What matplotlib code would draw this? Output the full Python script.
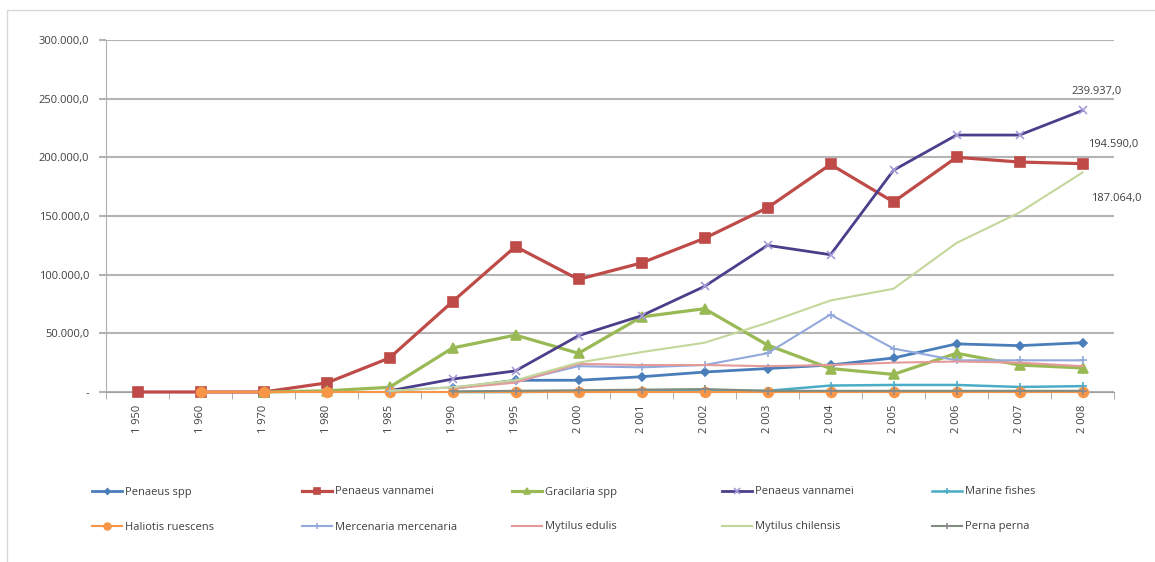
import matplotlib.pyplot as plt
import numpy as np
from matplotlib.patches import Rectangle

plt.rcParams.update({
    "font.family": ["Open Sans", "DejaVu Sans"],
    "font.size": 8,
    "text.color": "#404040",
})

nan = np.nan

years = ["1 950", "1 960", "1 970", "1 980", "1 985", "1 990", "1 995", "2 000",
         "2 001", "2 002", "2 003", "2 004", "2 005", "2 006", "2 007", "2 008"]

penaeus_spp = [nan, nan, nan, nan, nan, 3000, 10000, 10000,
               13000, 17000, 20000, 23000, 29000, 41000, 39500, 42000]
penaeus_vannamei = [0, 0, 0, 7700, 29000, 77000, 124000, 96000,
                    110000, 131000, 157000, 194000, 162000, 200000, 196000, 194590]
gracilaria_spp = [nan, nan, 0, 1000, 4000, 37500, 48500, 33000,
                  64000, 71000, 40000, 20000, 15000, 33000, 23000, 20500]
penaeus_vannamei_2 = [nan, nan, nan, nan, 1000, 11000, 18000, 48000,
                      65000, 90000, 125000, 117000, 189000, 219000, 219000, 239937]
marine_fishes = [nan, nan, nan, nan, nan, 0, 0, 500,
                 800, 1000, 1000, 5500, 6000, 6000, 4300, 5000]
haliotis_ruescens = [nan, 0, 0, 0, 0, 0, 0, 0,
                     0, 0, 0, 0, 0, 0, 0, 0]
mercenaria = [nan, nan, nan, nan, 1000, 4000, 9000, 22000,
              21000, 23000, 33000, 66000, 37000, 27000, 27000, 27000]
mytilus_edulis = [nan, nan, nan, nan, nan, 3000, 8000, 24000,
                  23000, 23000, 22000, 23000, 25000, 26000, 25000, 22000]
mytilus_chilensis = [nan, nan, nan, nan, 1000, 4000, 10000, 25000,
                     34000, 42000, 59000, 78000, 88000, 127000, 153000, 187064]
perna_perna = [nan, nan, nan, nan, nan, 500, 1000, 1500,
               2000, 2500, 1000, 1000, 1000, 1000, 1000, 1000]

series = [
    ("Penaeus spp", penaeus_spp, "#4A7EBB", "D", 4, 2.0, "#4A7EBB"),
    ("Penaeus vannamei", penaeus_vannamei, "#BE4B48", "s", 7, 2.3, "#BE4B48"),
    ("Gracilaria spp", gracilaria_spp, "#98B954", "^", 7, 2.3, "#98B954"),
    ("Penaeus vannamei", penaeus_vannamei_2, "#4B3F8C", "x", 6, 2.0, "#A99BD8"),
    ("Marine fishes", marine_fishes, "#4BACC6", "+", 6, 1.8, "#4BACC6"),
    ("Haliotis ruescens", haliotis_ruescens, "#F79646", "o", 7, 1.5, "#F79646"),
    ("Mercenaria mercenaria", mercenaria, "#93A9DC", "+", 6, 1.5, "#93A9DC"),
    ("Mytilus edulis", mytilus_edulis, "#E39A99", "", 0, 1.5, "#E39A99"),
    ("Mytilus chilensis", mytilus_chilensis, "#C4D79B", "", 0, 1.5, "#C4D79B"),
    ("Perna perna", perna_perna, "#7F8C7F", "+", 6, 1.5, "#8C8C8C"),
]

W, H = 1155, 562
fig = plt.figure(figsize=(W / 100, H / 100), dpi=100)
ax = fig.add_axes([106 / W, 1 - 392 / H, (1114 - 106) / W, (392 - 40) / H])

x = np.arange(len(years))
lines = []
for name, vals, col, mk, ms, lw, mcol in series:
    ln, = ax.plot(x, vals, color=col, lw=lw, marker=mk if mk else None, ms=ms,
                  markerfacecolor=mcol, markeredgecolor=mcol, mew=1.2,
                  clip_on=False, zorder=3)
    lines.append(ln)

ax.set_xlim(-0.5, len(years) - 0.5)
ax.set_ylim(0, 300000)
ax.set_yticks(np.arange(0, 300001, 50000))
ax.set_yticklabels(["-"] + [f"{v:,}".replace(",", ".") + ",0" for v in range(50000, 300001, 50000)],
                   color="#404040")
ax.yaxis.grid(True, color="#b4b4b4", lw=1.5)
ax.set_axisbelow(True)

ax.set_xticks(x)
ax.set_xticklabels(years, rotation=90, va="top", color="#404040")
ax.set_xticks(np.arange(-0.5, len(years)), minor=True)
ax.tick_params(axis="x", which="major", length=0, pad=9)
ax.tick_params(axis="x", which="minor", length=5, color="#a0a0a0", direction="out")
ax.tick_params(axis="y", length=5, color="#b4b4b4", width=1.5, pad=7)

for s in ["top", "right"]:
    ax.spines[s].set_visible(False)
ax.spines["left"].set_color("#b0b0b0")
ax.spines["bottom"].set_color("#a0a0a0")

# data labels at the last points
last = len(years) - 1
ax.annotate("239.937,0", (last, penaeus_vannamei_2[-1]), xytext=(10, 14),
            textcoords="offset points", ha="center", va="center")
ax.annotate("194.590,0", (last, penaeus_vannamei[-1]), xytext=(22, 14),
            textcoords="offset points", ha="center", va="center")
ax.annotate("187.064,0", (last, mytilus_chilensis[-1]), xytext=(24, -19),
            textcoords="offset points", ha="center", va="center")

# legend: 5 columns x 2 rows
for i, ln in enumerate(lines):
    col, row = i % 5, i // 5
    lx = (92 + 210 * col) / W
    ly = 1 - (492 + 35 * row) / H
    fig.legend(handles=[ln], labels=[series[i][0]], loc="center left",
               bbox_to_anchor=(lx, ly), frameon=False, borderpad=0,
               borderaxespad=0, handlelength=2.7, handletextpad=0.3,
               markerscale=0.7, fontsize=8)

fig.patches.append(Rectangle((7 / W, -0.1), 1.2, 1 - 10 / H + 0.1,
                             transform=fig.transFigure, fill=False,
                             edgecolor="#d9d9d9", lw=1))

fig.savefig("out.png", dpi=100)
